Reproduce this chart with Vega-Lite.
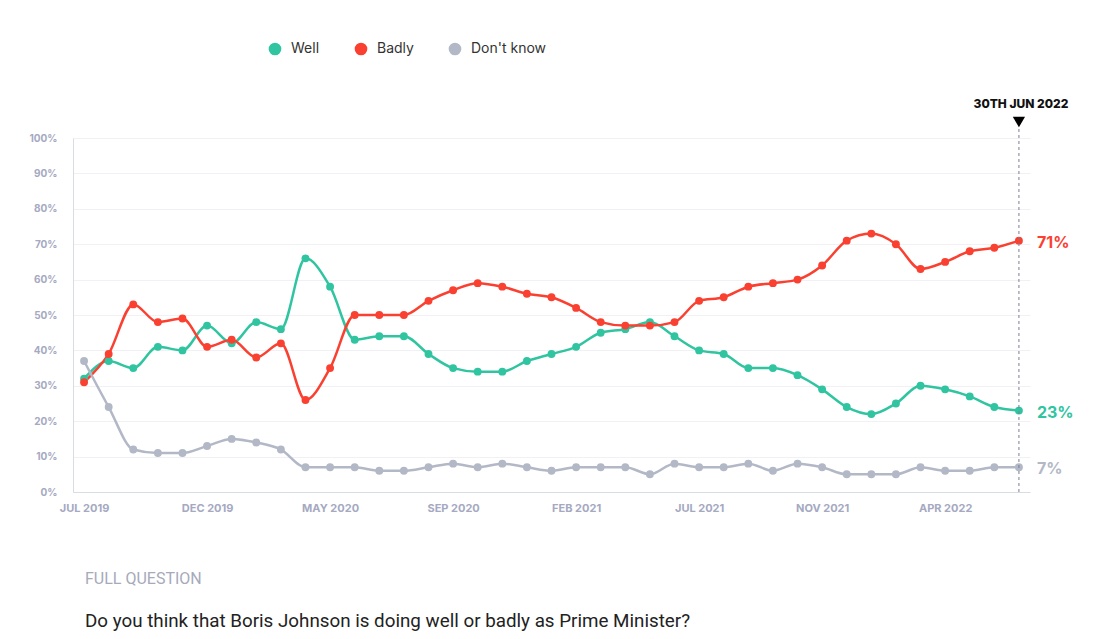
{
  "$schema": "https://vega.github.io/schema/vega-lite/v6.json",
  "width": 957,
  "height": 354,
  "autosize": {"type": "none"},
  "padding": {"left": 73, "top": 138, "right": 69, "bottom": 147},
  "background": "white",
  "config": {
    "view": {"stroke": null},
    "font": "Inter",
    "axisY": {"tickCount": 11, "labelOverlap": false, "gridColor": "#f1f1f5", "domainColor": "#d9dbe5", "ticks": false, "labelColor": "#a5a9c1", "labelFontWeight": "bold", "labelFontSize": 10, "labelPadding": 16, "title": null},
    "axisX": {"ticks": false, "grid": false, "labelAngle": 0, "domainColor": "#d9dbe5", "labelColor": "#a5a9c1", "labelFontWeight": "bold", "labelFontSize": 11, "labelPadding": 10, "title": null}
  },
  "title": {
    "text": "FULL QUESTION",
    "subtitle": "Do you think that Boris Johnson is doing well or badly as Prime Minister?",
    "orient": "bottom",
    "anchor": "start",
    "frame": "group",
    "dx": 12,
    "offset": 58,
    "font": "Roboto",
    "fontSize": 16,
    "fontWeight": "normal",
    "color": "#a6aabb",
    "subtitleFont": "Roboto",
    "subtitleFontSize": 18.8,
    "subtitleColor": "#222222",
    "subtitlePadding": 25
  },
  "datasets": {
    "polls": [
      {"date": "2019-07-15", "series": "Well", "value": 0.32},
      {"date": "2019-08-15", "series": "Well", "value": 0.37},
      {"date": "2019-09-15", "series": "Well", "value": 0.35},
      {"date": "2019-10-15", "series": "Well", "value": 0.41},
      {"date": "2019-11-15", "series": "Well", "value": 0.40},
      {"date": "2019-12-15", "series": "Well", "value": 0.47},
      {"date": "2020-01-15", "series": "Well", "value": 0.42},
      {"date": "2020-02-15", "series": "Well", "value": 0.48},
      {"date": "2020-03-15", "series": "Well", "value": 0.46},
      {"date": "2020-04-15", "series": "Well", "value": 0.66},
      {"date": "2020-05-15", "series": "Well", "value": 0.58},
      {"date": "2020-06-15", "series": "Well", "value": 0.43},
      {"date": "2020-07-15", "series": "Well", "value": 0.44},
      {"date": "2020-08-05", "series": "Well", "value": 0.44},
      {"date": "2020-08-25", "series": "Well", "value": 0.39},
      {"date": "2020-09-15", "series": "Well", "value": 0.35},
      {"date": "2020-10-15", "series": "Well", "value": 0.34},
      {"date": "2020-11-15", "series": "Well", "value": 0.34},
      {"date": "2020-12-15", "series": "Well", "value": 0.37},
      {"date": "2021-01-15", "series": "Well", "value": 0.39},
      {"date": "2021-02-15", "series": "Well", "value": 0.41},
      {"date": "2021-03-15", "series": "Well", "value": 0.45},
      {"date": "2021-04-15", "series": "Well", "value": 0.46},
      {"date": "2021-05-15", "series": "Well", "value": 0.48},
      {"date": "2021-06-15", "series": "Well", "value": 0.44},
      {"date": "2021-07-15", "series": "Well", "value": 0.40},
      {"date": "2021-08-15", "series": "Well", "value": 0.39},
      {"date": "2021-09-15", "series": "Well", "value": 0.35},
      {"date": "2021-10-05", "series": "Well", "value": 0.35},
      {"date": "2021-10-25", "series": "Well", "value": 0.33},
      {"date": "2021-11-15", "series": "Well", "value": 0.29},
      {"date": "2021-12-15", "series": "Well", "value": 0.24},
      {"date": "2022-01-15", "series": "Well", "value": 0.22},
      {"date": "2022-02-15", "series": "Well", "value": 0.25},
      {"date": "2022-03-15", "series": "Well", "value": 0.30},
      {"date": "2022-04-15", "series": "Well", "value": 0.29},
      {"date": "2022-05-15", "series": "Well", "value": 0.27},
      {"date": "2022-06-10", "series": "Well", "value": 0.24},
      {"date": "2022-06-30", "series": "Well", "value": 0.23},
      {"date": "2019-07-15", "series": "Badly", "value": 0.31},
      {"date": "2019-08-15", "series": "Badly", "value": 0.39},
      {"date": "2019-09-15", "series": "Badly", "value": 0.53},
      {"date": "2019-10-15", "series": "Badly", "value": 0.48},
      {"date": "2019-11-15", "series": "Badly", "value": 0.49},
      {"date": "2019-12-15", "series": "Badly", "value": 0.41},
      {"date": "2020-01-15", "series": "Badly", "value": 0.43},
      {"date": "2020-02-15", "series": "Badly", "value": 0.38},
      {"date": "2020-03-15", "series": "Badly", "value": 0.42},
      {"date": "2020-04-15", "series": "Badly", "value": 0.26},
      {"date": "2020-05-15", "series": "Badly", "value": 0.35},
      {"date": "2020-06-15", "series": "Badly", "value": 0.50},
      {"date": "2020-07-15", "series": "Badly", "value": 0.50},
      {"date": "2020-08-05", "series": "Badly", "value": 0.50},
      {"date": "2020-08-25", "series": "Badly", "value": 0.54},
      {"date": "2020-09-15", "series": "Badly", "value": 0.57},
      {"date": "2020-10-15", "series": "Badly", "value": 0.59},
      {"date": "2020-11-15", "series": "Badly", "value": 0.58},
      {"date": "2020-12-15", "series": "Badly", "value": 0.56},
      {"date": "2021-01-15", "series": "Badly", "value": 0.55},
      {"date": "2021-02-15", "series": "Badly", "value": 0.52},
      {"date": "2021-03-15", "series": "Badly", "value": 0.48},
      {"date": "2021-04-15", "series": "Badly", "value": 0.47},
      {"date": "2021-05-15", "series": "Badly", "value": 0.47},
      {"date": "2021-06-15", "series": "Badly", "value": 0.48},
      {"date": "2021-07-15", "series": "Badly", "value": 0.54},
      {"date": "2021-08-15", "series": "Badly", "value": 0.55},
      {"date": "2021-09-15", "series": "Badly", "value": 0.58},
      {"date": "2021-10-05", "series": "Badly", "value": 0.59},
      {"date": "2021-10-25", "series": "Badly", "value": 0.60},
      {"date": "2021-11-15", "series": "Badly", "value": 0.64},
      {"date": "2021-12-15", "series": "Badly", "value": 0.71},
      {"date": "2022-01-15", "series": "Badly", "value": 0.73},
      {"date": "2022-02-15", "series": "Badly", "value": 0.70},
      {"date": "2022-03-15", "series": "Badly", "value": 0.63},
      {"date": "2022-04-15", "series": "Badly", "value": 0.65},
      {"date": "2022-05-15", "series": "Badly", "value": 0.68},
      {"date": "2022-06-10", "series": "Badly", "value": 0.69},
      {"date": "2022-06-30", "series": "Badly", "value": 0.71},
      {"date": "2019-07-15", "series": "Don't know", "value": 0.37},
      {"date": "2019-08-15", "series": "Don't know", "value": 0.24},
      {"date": "2019-09-15", "series": "Don't know", "value": 0.12},
      {"date": "2019-10-15", "series": "Don't know", "value": 0.11},
      {"date": "2019-11-15", "series": "Don't know", "value": 0.11},
      {"date": "2019-12-15", "series": "Don't know", "value": 0.13},
      {"date": "2020-01-15", "series": "Don't know", "value": 0.15},
      {"date": "2020-02-15", "series": "Don't know", "value": 0.14},
      {"date": "2020-03-15", "series": "Don't know", "value": 0.12},
      {"date": "2020-04-15", "series": "Don't know", "value": 0.07},
      {"date": "2020-05-15", "series": "Don't know", "value": 0.07},
      {"date": "2020-06-15", "series": "Don't know", "value": 0.07},
      {"date": "2020-07-15", "series": "Don't know", "value": 0.06},
      {"date": "2020-08-05", "series": "Don't know", "value": 0.06},
      {"date": "2020-08-25", "series": "Don't know", "value": 0.07},
      {"date": "2020-09-15", "series": "Don't know", "value": 0.08},
      {"date": "2020-10-15", "series": "Don't know", "value": 0.07},
      {"date": "2020-11-15", "series": "Don't know", "value": 0.08},
      {"date": "2020-12-15", "series": "Don't know", "value": 0.07},
      {"date": "2021-01-15", "series": "Don't know", "value": 0.06},
      {"date": "2021-02-15", "series": "Don't know", "value": 0.07},
      {"date": "2021-03-15", "series": "Don't know", "value": 0.07},
      {"date": "2021-04-15", "series": "Don't know", "value": 0.07},
      {"date": "2021-05-15", "series": "Don't know", "value": 0.05},
      {"date": "2021-06-15", "series": "Don't know", "value": 0.08},
      {"date": "2021-07-15", "series": "Don't know", "value": 0.07},
      {"date": "2021-08-15", "series": "Don't know", "value": 0.07},
      {"date": "2021-09-15", "series": "Don't know", "value": 0.08},
      {"date": "2021-10-05", "series": "Don't know", "value": 0.06},
      {"date": "2021-10-25", "series": "Don't know", "value": 0.08},
      {"date": "2021-11-15", "series": "Don't know", "value": 0.07},
      {"date": "2021-12-15", "series": "Don't know", "value": 0.05},
      {"date": "2022-01-15", "series": "Don't know", "value": 0.05},
      {"date": "2022-02-15", "series": "Don't know", "value": 0.05},
      {"date": "2022-03-15", "series": "Don't know", "value": 0.07},
      {"date": "2022-04-15", "series": "Don't know", "value": 0.06},
      {"date": "2022-05-15", "series": "Don't know", "value": 0.06},
      {"date": "2022-06-10", "series": "Don't know", "value": 0.07},
      {"date": "2022-06-30", "series": "Don't know", "value": 0.07}
    ]
  },
  "layer": [
    {
      "data": {"name": "polls"},
      "mark": {"type": "line", "interpolate": "monotone", "strokeWidth": 2.5},
      "encoding": {
        "x": {
          "field": "date", "type": "ordinal",
          "scale": {"type": "point", "padding": 0.45},
          "axis": {
            "values": ["2019-07-15", "2019-12-15", "2020-05-15", "2020-09-15", "2021-02-15", "2021-07-15", "2021-11-15", "2022-04-15"],
            "labelExpr": "upper(utcFormat(toDate(datum.value), '%b %Y'))"
          }
        },
        "y": {
          "field": "value", "type": "quantitative",
          "scale": {"domain": [0, 1], "nice": false},
          "axis": {"values": [0, 0.1, 0.2, 0.3, 0.4, 0.5, 0.6, 0.7, 0.8, 0.9, 1], "tickCount": 11, "format": ".0%", "labelOverlap": false}
        },
        "color": {
          "field": "series", "type": "nominal",
          "scale": {"domain": ["Well", "Badly", "Don't know"], "range": ["#30c5a0", "#fa4030", "#b3b8c7"]},
          "legend": {
            "title": null, "orient": "none", "legendX": 195, "legendY": -96,
            "direction": "horizontal", "symbolType": "circle", "symbolSize": 160,
            "symbolStrokeWidth": 0, "labelFontSize": 14, "labelColor": "#333333",
            "labelFont": "Inter", "columnPadding": 34, "labelOffset": 9
          }
        }
      }
    },
    {
      "data": {"name": "polls"},
      "mark": {"type": "point", "filled": true, "size": 62, "opacity": 1},
      "encoding": {
        "x": {"field": "date", "type": "ordinal"},
        "y": {"field": "value", "type": "quantitative", "axis": {"values": [0, 0.1, 0.2, 0.3, 0.4, 0.5, 0.6, 0.7, 0.8, 0.9, 1], "tickCount": 11, "format": ".0%", "labelOverlap": false}},
        "color": {"field": "series", "type": "nominal"}
      }
    },
    {
      "data": {"name": "polls"},
      "transform": [{"filter": "datum.date == '2022-06-30'"}],
      "mark": {"type": "text", "align": "left", "baseline": "middle", "dx": 18, "dy": 2, "fontSize": 16, "fontWeight": "bold"},
      "encoding": {
        "x": {"field": "date", "type": "ordinal"},
        "y": {"field": "value", "type": "quantitative", "axis": {"values": [0, 0.1, 0.2, 0.3, 0.4, 0.5, 0.6, 0.7, 0.8, 0.9, 1], "tickCount": 11, "format": ".0%", "labelOverlap": false}},
        "text": {"field": "value", "type": "quantitative", "format": ".0%"},
        "color": {"field": "series", "type": "nominal"}
      }
    },
    {
      "data": {"values": [{"date": "2022-06-30", "label": "30TH JUN 2022"}]},
      "mark": {"type": "rule", "strokeDash": [3, 3], "color": "#7a7f90", "strokeWidth": 1},
      "encoding": {
        "x": {"field": "date", "type": "ordinal"},
        "y": {"datum": 0, "axis": {"values": [0, 0.1, 0.2, 0.3, 0.4, 0.5, 0.6, 0.7, 0.8, 0.9, 1], "tickCount": 11, "format": ".0%", "labelOverlap": false}},
        "y2": {"datum": 1.03}
      }
    },
    {
      "data": {"values": [{"date": "2022-06-30", "label": "30TH JUN 2022"}]},
      "mark": {"type": "point", "shape": "triangle-down", "filled": true, "color": "#000000", "size": 150, "opacity": 1},
      "encoding": {
        "x": {"field": "date", "type": "ordinal"},
        "y": {"datum": 1.045, "axis": {"values": [0, 0.1, 0.2, 0.3, 0.4, 0.5, 0.6, 0.7, 0.8, 0.9, 1], "tickCount": 11, "format": ".0%", "labelOverlap": false}}
      }
    },
    {
      "data": {"values": [{"date": "2022-06-30", "label": "30TH JUN 2022"}]},
      "mark": {"type": "text", "align": "center", "baseline": "middle", "dx": 2, "dy": 1, "fontSize": 12, "fontWeight": 800, "color": "#111111"},
      "encoding": {
        "x": {"field": "date", "type": "ordinal"},
        "y": {"datum": 1.1, "axis": {"values": [0, 0.1, 0.2, 0.3, 0.4, 0.5, 0.6, 0.7, 0.8, 0.9, 1], "tickCount": 11, "format": ".0%", "labelOverlap": false}},
        "text": {"field": "label"}
      }
    }
  ]
}
